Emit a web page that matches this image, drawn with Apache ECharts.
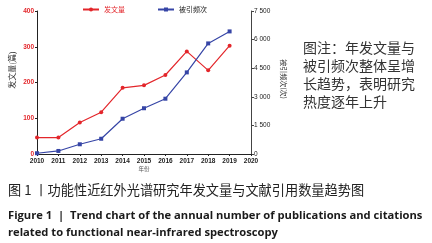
<!DOCTYPE html>
<html><head><meta charset="utf-8">
<script src="https://cdn.jsdelivr.net/npm/echarts@6/dist/echarts.min.js"></script>
<style>html,body{margin:0;padding:0;background:#fff}#c{width:432px;height:243px}</style>
</head><body><div id="c"></div>
<script>
const years = ['2010','2011','2012','2013','2014','2015','2016','2017','2018','2019','2020'];
const publications = [46, 46, 88, 117, 185, 192, 221, 287, 234, 303];
const citations = [40, 160, 510, 800, 1850, 2400, 2900, 4280, 5800, 6430];
const leftTicks = {min: 0, max: 400, interval: 100};
const rightTicks = {min: 0, max: 7500, interval: 1500};

const RED = '#e3262b', BLUE = '#3645a6';
const fmtSpace = v => v >= 1000 ? Math.floor(v/1000) + ' ' + String(v % 1000).padStart(3, '0') : String(v);

const chart = echarts.init(document.getElementById('c'));
chart.setOption({
  animation: false,
  backgroundColor: '#fff',
  grid: {left: 37, right: 181, top: 11, bottom: 89},
  legend: {
    top: 1, left: 77, itemWidth: 16, itemHeight: 5, itemGap: 32,
    textStyle: {fontSize: 7, fontFamily: 'Noto Sans CJK SC'},
    data: [
      {name: '发文量', textStyle: {color: RED}},
      {name: '被引频次', textStyle: {color: '#222'}}
    ]
  },
  xAxis: {
    type: 'category', data: years, boundaryGap: false,
    axisLine: {lineStyle: {color: '#222', width: 1}},
    axisTick: {show: true, length: 2, lineStyle: {color: '#222'}},
    axisLabel: {fontSize: 6.5, fontWeight: 'bold', color: '#222', margin: 4, fontFamily: 'Liberation Sans'}
  },
  yAxis: [
    {
      type: 'value', min: leftTicks.min, max: leftTicks.max, interval: leftTicks.interval,
      splitLine: {show: false},
      axisLine: {show: true, lineStyle: {color: '#222'}},
      axisTick: {show: true, length: 2, lineStyle: {color: '#222'}},
      axisLabel: {fontSize: 6.5, fontWeight: 'bold', color: RED, margin: 3, fontFamily: 'Liberation Sans'}
    },
    {
      type: 'value', min: rightTicks.min, max: rightTicks.max, interval: rightTicks.interval,
      position: 'right',
      splitLine: {show: false},
      axisLine: {show: true, lineStyle: {color: '#444'}},
      axisTick: {show: true, length: 3, lineStyle: {color: '#444'}},
      axisLabel: {fontSize: 6.5, color: '#222', margin: 3, fontFamily: 'Liberation Sans', formatter: fmtSpace}
    }
  ],
  series: [
    {name: '发文量', type: 'line', yAxisIndex: 0, data: publications,
     symbol: 'circle', symbolSize: 4, itemStyle: {color: RED}, lineStyle: {color: RED, width: 1.2}},
    {name: '被引频次', type: 'line', yAxisIndex: 1, data: citations,
     symbol: 'rect', symbolSize: 4, itemStyle: {color: BLUE}, lineStyle: {color: BLUE, width: 1.2}}
  ],
  graphic: [
    {type: 'text', x: 12, y: 70, rotation: Math.PI/2,
     style: {text: '发文量(篇)', fontSize: 8, fill: '#333', fontFamily: 'Noto Sans CJK SC', align: 'center', verticalAlign: 'middle'}},
    {type: 'text', x: 284, y: 79, rotation: -Math.PI/2,
     style: {text: '被引频次(次)', fontSize: 7, fill: '#333', fontFamily: 'Noto Sans CJK SC', align: 'center', verticalAlign: 'middle'}},
    {type: 'text', x: 144, y: 169,
     style: {text: '年份', fontSize: 5.5, fill: '#555', fontFamily: 'Noto Sans CJK SC', align: 'center', verticalAlign: 'middle'}},
    {type: 'text', x: 303, y: 39,
     style: {text: '图注：年发文量与\n被引频次整体呈增\n长趋势，表明研究\n热度逐年上升', fontSize: 14, lineHeight: 18, fill: '#333', fontFamily: 'Noto Sans CJK SC'}},
    {type: 'text', x: 8, y: 190,
     style: {text: '图 1 丨功能性近红外光谱研究年发文量与文献引用数量趋势图', fontSize: 13.2, fill: '#222', fontFamily: 'Noto Sans CJK SC', verticalAlign: 'middle'}},
    {type: 'text', x: 8, y: 216,
     style: {text: 'Figure 1  |  Trend chart of the annual number of publications and citations', fontSize: 11.2, fontWeight: 'bold', fill: '#1a1a1a', fontFamily: 'Open Sans', verticalAlign: 'middle'}},
    {type: 'text', x: 8, y: 233,
     style: {text: 'related to functional near-infrared spectroscopy', fontSize: 11.2, fontWeight: 'bold', fill: '#1a1a1a', fontFamily: 'Open Sans', verticalAlign: 'middle'}}
  ]
});
</script></body></html>
